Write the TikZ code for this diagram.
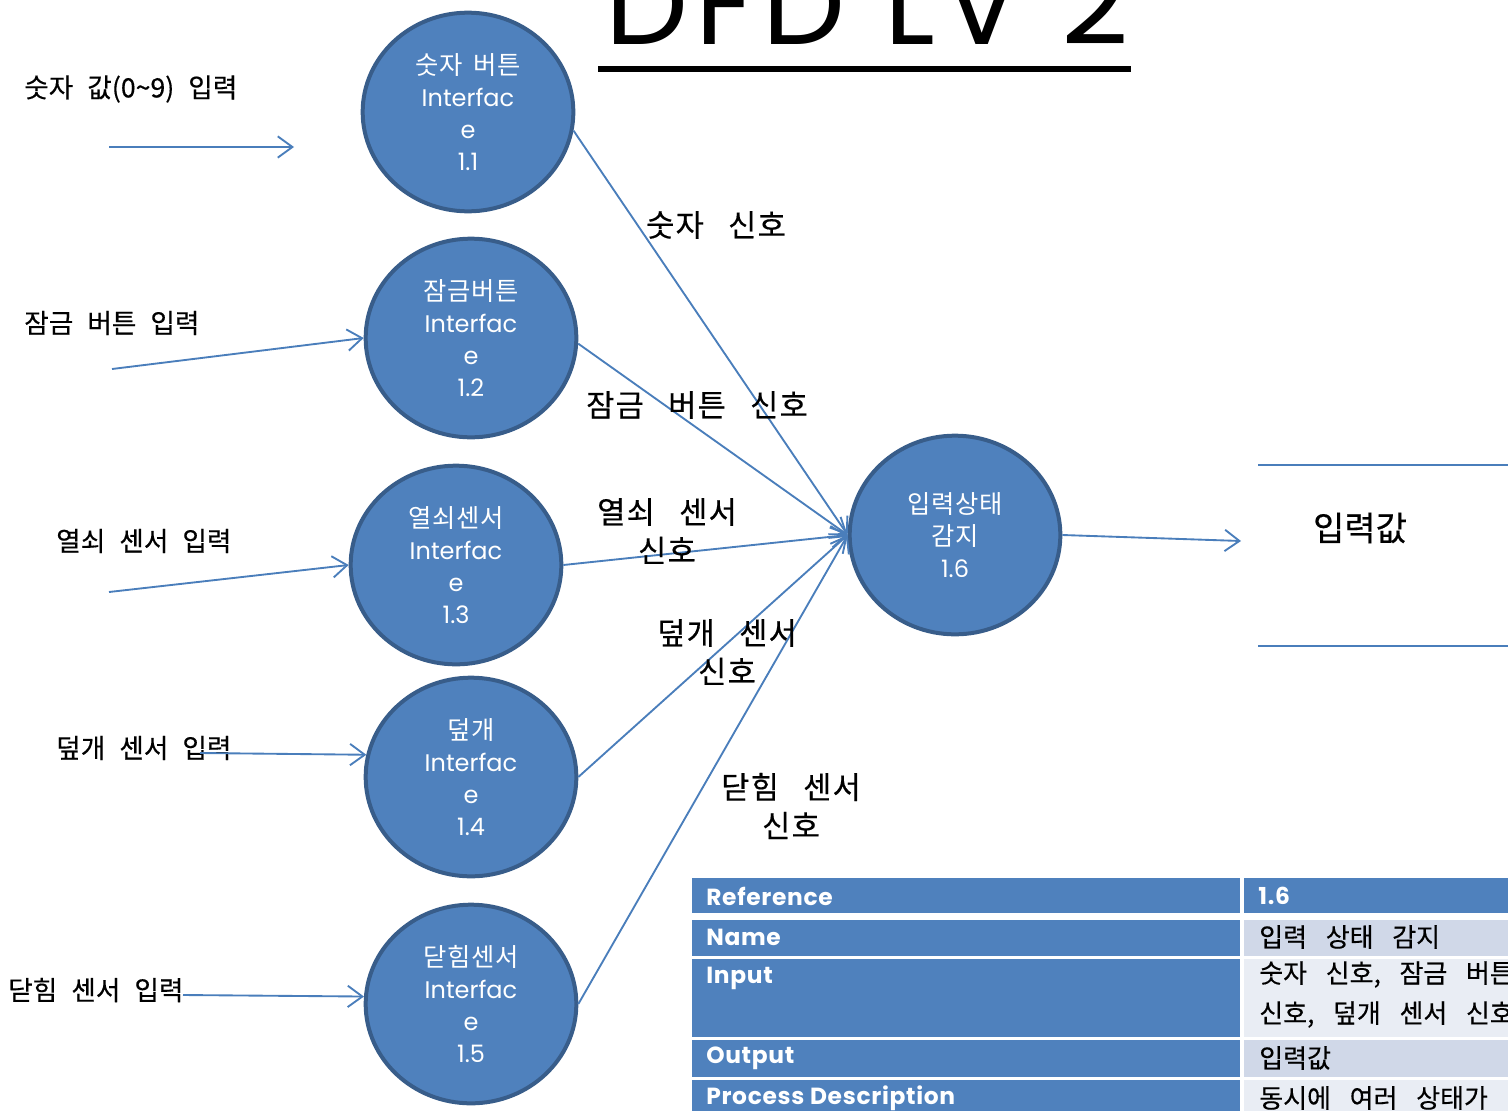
\documentclass[tikz,border=0pt]{standalone}
\usepackage{fontspec}
\setmainfont{Poppins}
\newfontfamily\kr{Noto Sans CJK KR}[WordSpace=1.6, LetterSpace=3]
\newfontfamily\krlab{Noto Sans CJK KR}[FakeBold=0.4]
\newfontfamily\krsig{Noto Sans CJK KR}[WordSpace=3.0, LetterSpace=4, FakeBold=0.4]
\newfontfamily\poplat{Poppins}[LetterSpace=3]
\newfontfamily\titlefont{Poppins}[LetterSpace=6.5]
\usetikzlibrary{arrows.meta,shapes.geometric}
\definecolor{procfill}{HTML}{4F81BD}
\definecolor{procline}{HTML}{385D8A}
\definecolor{flowc}{HTML}{4A7EBB}
\definecolor{rowA}{HTML}{D0D8E8}
\definecolor{rowB}{HTML}{E9EDF4}
\definecolor{hdr}{HTML}{4F81BD}
\newcommand{\krc}[1]{{\kr\fontsize{19}{24}\selectfont #1}}
\tikzset{
  proc/.style={ellipse, draw=procline, line width=3pt, fill=procfill,
    minimum width=158pt, minimum height=149pt, inner sep=0pt, align=center,
    text=white, font=\fontsize{18}{24}\selectfont},
  flowline/.style={draw=flowc, line width=1.4pt, -{Straight Barb[length=11pt,width=16pt,line width=1.4pt]}},
  inlabel/.style={anchor=west, inner sep=0pt, font={\krlab\fontsize{20}{22}\selectfont\spaceskip=10.5pt\relax}},
  edgelabel/.style={align=center, inner sep=0pt, font=\krsig\fontsize{23}{29}\selectfont},
  htext/.style={anchor=west, inner sep=0pt, text=white, font=\poplat\bfseries\fontsize{17.5}{20}\selectfont},
  ctext/.style={anchor=west, inner sep=0pt, font={\krlab\fontsize{19.5}{30}\selectfont\spaceskip=14pt\relax}, align=left},
}
\begin{document}
\begin{tikzpicture}[x=0.75pt,y=-0.75pt]
\useasboundingbox (0,0) rectangle (1508,1110);
\clip (0,0) rectangle (1508,1110);

% title
\node[anchor=base, inner sep=0pt, font=\titlefont\fontsize{88}{90}\selectfont] (title) at (867,44) {DFD LV 2};
\fill (598,66) rectangle (1131,72);

% processes
\node[proc] (p11) at (468,112) {\krc{숫자 버튼}\\Interfac\\e\\1.1};
\node[proc] (p12) at (471,338) {\krc{잠금버튼}\\Interfac\\e\\1.2};
\node[proc] (p13) at (456,565) {\krc{열쇠센서}\\Interfac\\e\\1.3};
\node[proc] (p14) at (471,777) {\krc{덮개}\\Interfac\\e\\1.4};
\node[proc] (p15) at (471,1004) {\krc{닫힘센서}\\Interfac\\e\\1.5};
\node[proc] (p16) at (955,535) {\krc{입력상태}\\\krc{감지}\\1.6};

% external inputs
\node[inlabel] (l1) at (24,89) {숫자 값(0\textasciitilde 9) 입력};
\node[inlabel] (l2) at (24,323) {잠금 버튼 입력};
\node[inlabel] (l3) at (56,541) {열쇠 센서 입력};
\node[inlabel] (l4) at (56,748) {덮개 센서 입력};
\node[inlabel] (l5) at (8,990) {닫힘 센서 입력};

\coordinate (s1) at (109,147);
\coordinate (e1) at (294,147);
\coordinate (s2) at (112,369);
\coordinate (s3) at (109,592);
\coordinate (s4) at (200,753);
\coordinate (s5) at (183,995);
\draw[flowline] (s1) -- (e1);
\draw[flowline] (s2) -- (p12.west);
\draw[flowline] (s3) -- (p13.west);
\draw[flowline] (s4) -- (p14.168);
\draw[flowline] (s5) -- (p15.176);

% flows into 1.6
\draw[flowline] (p11.-10) -- (p16.west);
\draw[flowline] (p12.-3) -- (p16.west);
\draw[flowline] (p13.east) -- (p16.west);
\draw[flowline] (p14.east) -- (p16.west);
\draw[flowline] (p15.east) -- (p16.west);

\node[edgelabel] (f1) at (716,225) {숫자 신호};
\node[edgelabel] (f2) at (697,405) {잠금 버튼 신호};
\node[edgelabel] (f3) at (667,531) {열쇠 센서\\신호};
\node[edgelabel] (f4) at (727,652) {덮개 센서\\신호};
\node[edgelabel] (f5) at (791,806) {닫힘 센서\\신호};

% output
\coordinate (o1) at (1241,541);
\draw[flowline] (p16.east) -- (o1);
\draw[draw=flowc, line width=1.4pt] (1258,465) -- (1508,465);
\draw[draw=flowc, line width=1.4pt] (1258,646) -- (1508,646);
\node[inner sep=0pt, font=\krlab\fontsize{25.5}{28}\selectfont] (ds) at (1360,528) {입력값};

% table
\fill[hdr] (692,878) rectangle (1240,913);
\fill[hdr] (1244,878) rectangle (1510,913);
\fill[hdr] (692,920) rectangle (1240,956);
\fill[rowA] (1244,920) rectangle (1510,956);
\fill[hdr] (692,959) rectangle (1240,1037);
\fill[rowB] (1244,959) rectangle (1510,1037);
\fill[hdr] (692,1040) rectangle (1240,1077);
\fill[rowA] (1244,1040) rectangle (1510,1077);
\fill[hdr] (692,1080) rectangle (1240,1112);
\fill[rowB] (1244,1080) rectangle (1510,1112);

\node[htext] (t1) at (706,896) {Reference};
\node[htext] (t1v) at (1258,896) {1.6};
\node[htext] (t2) at (706,937) {Name};
\node[ctext] (t2v) at (1259,937) {입력 상태 감지};
\node[htext] (t3) at (706,978) {Input};
\node[ctext, anchor=north west] (t3v) at (1259,961) {숫자 신호, 잠금 버튼\\신호, 덮개 센서 신호};
\node[htext] (t4) at (706,1058) {Output};
\node[ctext] (t4v) at (1259,1058) {입력값};
\node[htext] (t5) at (706,1098) {Process Description};
\node[ctext] (t5v) at (1259,1098) {동시에 여러 상태가};
\end{tikzpicture}
\end{document}
